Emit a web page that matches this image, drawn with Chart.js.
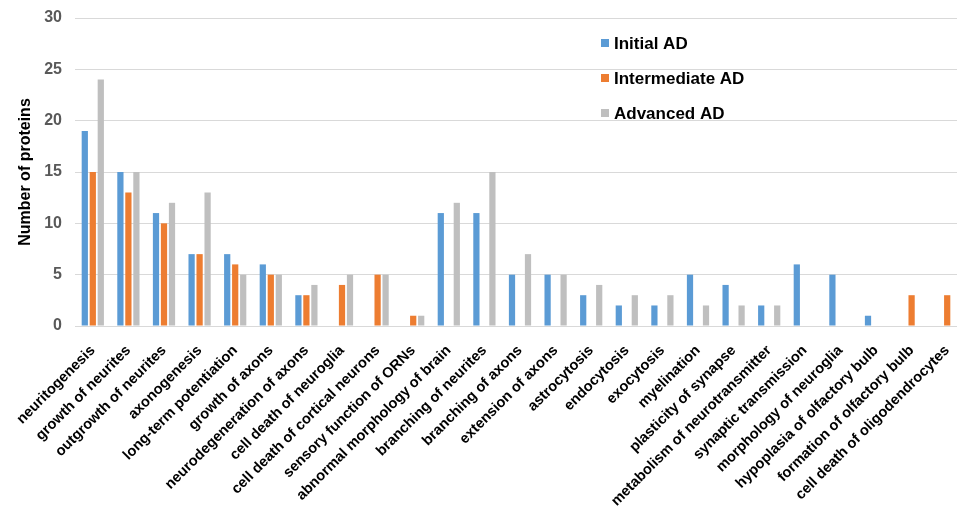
<!DOCTYPE html>
<html>
<head>
<meta charset="utf-8">
<script src="https://cdn.jsdelivr.net/npm/chart.js@4/dist/chart.umd.min.js"></script>
<style>
  html, body { margin: 0; padding: 0; background: #ffffff; overflow: hidden; }
  /* plot runs slightly past the right edge of the window */
  #wrap { width: 965px; height: 515px; }
</style>
</head>
<body>
<div id="wrap"><canvas id="chart"></canvas></div>
<script>
// Biological functions (x categories)
const categories = [
  'neuritogenesis',
  'growth of neurites',
  'outgrowth of neurites',
  'axonogenesis',
  'long-term potentiation',
  'growth of axons',
  'neurodegeneration of axons',
  'cell death of neuroglia',
  'cell death of cortical neurons',
  'sensory function of ORNs',
  'abnormal morphology of brain',
  'branching of neurites',
  'branching of axons',
  'extension of axons',
  'astrocytosis',
  'endocytosis',
  'exocytosis',
  'myelination',
  'plasticity of synapse',
  'metabolism of neurotransmitter',
  'synaptic transmission',
  'morphology of neuroglia',
  'hypoplasia of olfactory bulb',
  'formation of olfactory bulb',
  'cell death of oligodendrocytes'
];

// Number of proteins per stage
const initialAD      = [19, 15, 11, 7, 7, 6, 3, 0, 0, 0, 11, 11, 5, 5, 3, 2, 2, 5, 4, 2, 6, 5, 1, 0, 0];
const intermediateAD = [15, 13, 10, 7, 6, 5, 3, 4, 5, 1, 0, 0, 0, 0, 0, 0, 0, 0, 0, 0, 0, 0, 0, 3, 3];
const advancedAD     = [24, 15, 12, 13, 5, 5, 4, 5, 5, 1, 12, 15, 7, 5, 4, 3, 3, 2, 2, 2, 0, 0, 0, 0, 0];

const seriesNames = ['Initial AD', 'Intermediate AD', 'Advanced AD'];
const yTicks = [0, 5, 10, 15, 20, 25, 30];

const FONT = 'Arial, "Liberation Sans", Helvetica, sans-serif';

// Legend drawn inside the plot area, stacked vertically
const insideLegend = {
  id: 'insideLegend',
  afterDraw(chart) {
    const ctx = chart.ctx;
    const x0 = 601, y0 = 43, step = 35;
    ctx.save();
    ctx.font = 'bold 17px ' + FONT;
    ctx.textBaseline = 'middle';
    ctx.textAlign = 'left';
    chart.data.datasets.forEach((ds, i) => {
      const y = y0 + i * step;
      ctx.fillStyle = ds.backgroundColor;
      ctx.fillRect(x0, y - 4, 8, 8);
      ctx.fillStyle = '#000000';
      ctx.fillText(ds.label, x0 + 13, y + 1);
    });
    ctx.restore();
  }
};

new Chart(document.getElementById('chart'), {
  type: 'bar',
  data: {
    labels: categories,
    datasets: [
      { label: seriesNames[0], data: initialAD,      backgroundColor: '#5b9bd5' },
      { label: seriesNames[1], data: intermediateAD, backgroundColor: '#ed7d31' },
      { label: seriesNames[2], data: advancedAD,     backgroundColor: '#bfbfbf' }
    ]
  },
  options: {
    responsive: true,
    maintainAspectRatio: false,
    animation: false,
    layout: { padding: { top: 18, right: 0, bottom: 0, left: 0 } },
    datasets: { bar: { categoryPercentage: 0.674, barPercentage: 0.78 } },
    plugins: {
      legend: { display: false },
      tooltip: { enabled: false }
    },
    scales: {
      x: {
        afterFit(scale) {
          scale.height = 189;
          scale.paddingLeft = 0;
          scale.paddingRight = 0;
        },
        grid: { display: false, drawTicks: false },
        border: { display: false },
        ticks: {
          autoSkip: false,
          minRotation: 45,
          maxRotation: 45,
          padding: 16,
          color: '#000000',
          font: { family: FONT, size: 14.6, weight: 'bold' }
        }
      },
      y: {
        min: 0,
        max: 30,
        afterBuildTicks(scale) { scale.ticks = yTicks.map(v => ({ value: v })); },
        afterFit(scale) {
          scale.width = 75;
          scale.paddingTop = 0;
          scale.paddingBottom = 0;
        },
        grid: { color: '#d9d9d9', lineWidth: 1, drawTicks: false },
        border: { display: false },
        ticks: {
          padding: 13,
          color: '#595959',
          font: { family: FONT, size: 16, weight: 'bold' }
        },
        title: {
          display: true,
          text: 'Number of proteins',
          color: '#000000',
          padding: { top: 16, bottom: 4 },
          font: { family: FONT, size: 16, weight: 'bold' }
        }
      }
    }
  },
  plugins: [insideLegend]
});
</script>
</body>
</html>
